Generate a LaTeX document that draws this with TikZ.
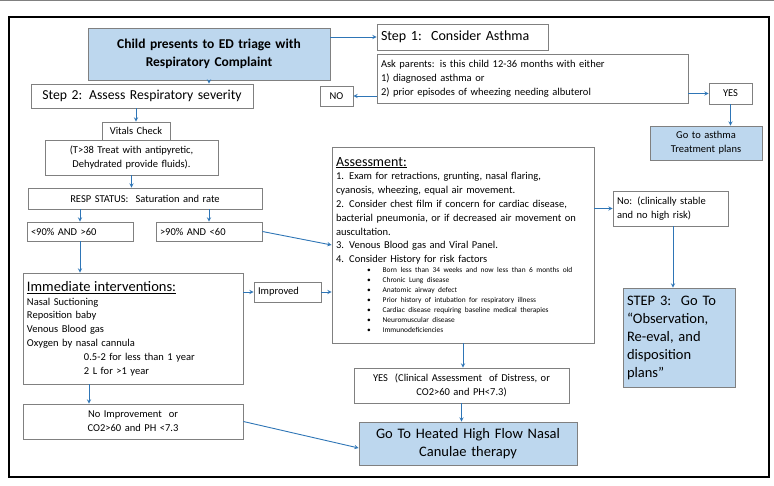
\documentclass[tikz,border=0pt]{standalone}
\usepackage{fontspec}
\setmainfont{Carlito}
\tikzset{>=stealth}
\definecolor{boxgray}{RGB}{128,128,128}
\definecolor{boxblue}{RGB}{189,215,238}
\definecolor{arrblue}{RGB}{46,117,182}
\tikzset{
  box/.style={draw=boxgray, line width=0.8pt, inner xsep=4pt, inner ysep=0pt, fill=white},
  bluebox/.style={box, fill=boxblue},
  flow/.style={->, draw=arrblue, line width=0.9pt},
  big/.style={font=\fontsize{14}{17.5}\selectfont},
  mid/.style={font=\fontsize{10.5}{13.8}\selectfont},
}

\begin{document}
\begin{tikzpicture}[x=1pt,y=-1pt]
\useasboundingbox (0,0) rectangle (774,486);
\draw[gray, line width=1.5pt] (0,0.75) -- (774,0.75);
\draw[line width=2.5pt] (9,17) rectangle (769,477);

\node[bluebox, font=\fontsize{13.5}{17.5}\selectfont\bfseries, text width=234pt, minimum height=52pt, align=center] (child) at (209,54) {Child presents to ED triage with\\Respiratory Complaint};
\node[box, big, text width=163pt, minimum height=26pt, align=left] (step1) at (462.5,37) {Step 1:\ \ Consider Asthma};
\node[box, mid, text width=303pt, minimum height=49pt, align=left] (ask) at (532.5,78.5) {Ask parents: is this child 12-36 months with either\\1) diagnosed asthma or\\2) prior episodes of wheezing needing albuterol};
\node[box, mid, text width=25pt, minimum height=20pt, align=center] (no) at (336.5,96) {NO};
\node[box, mid, text width=35pt, minimum height=21pt, align=center] (yes) at (730.5,93.5) {YES};
\node[bluebox, mid, text width=104pt, minimum height=34pt, align=center] (asthma) at (706,143) {Go to asthma\\Treatment plans};

\node[box, font=\fontsize{13.7}{17}\selectfont, text width=214pt, minimum height=24pt, align=center] (step2) at (142,96) {Step 2: Assess Respiratory severity};
\node[box, mid, text width=60pt, minimum height=18pt, align=center] (vitals) at (136,131) {Vitals Check};
\node[box, mid, text width=165pt, minimum height=35pt, align=center] (t38) at (131.5,157.5) {(T>38 Treat with antipyretic,\\Dehydrated provide fluids).};
\node[box, mid, text width=226pt, minimum height=21pt, align=center] (resp) at (145,198.5) {RESP STATUS:\ \ Saturation and rate};
\node[box, mid, text width=98pt, minimum height=19pt, align=left] (lt90) at (80,231.5) {<90\% AND >60};
\node[box, mid, text width=98pt, minimum height=19pt, align=left] (gt90) at (209,231.5) {>90\% AND <60};

\node[box, mid, text width=254pt, minimum height=196pt, align=left] (assess) at (463,245) {{\fontsize{14}{17}\selectfont\underline{Assessment:}}\\
1. Exam for retractions, grunting, nasal flaring,\\
cyanosis, wheezing, equal air movement.\\
2. Consider chest film if concern for cardiac disease,\\
bacterial pneumonia, or if decreased air movement on\\
auscultation.\\
3. Venous Blood gas and Viral Panel.\\
4. Consider History for risk factors\\
\fontsize{7.4}{10}\selectfont\hspace*{31pt}\textbullet\hspace*{12pt}Born less than 34 weeks and now less than 6 months old\\
\hspace*{31pt}\textbullet\hspace*{12pt}Chronic Lung disease\\
\hspace*{31pt}\textbullet\hspace*{12pt}Anatomic airway defect\\
\hspace*{31pt}\textbullet\hspace*{12pt}Prior history of intubation for respiratory illness\\
\hspace*{31pt}\textbullet\hspace*{12pt}Cardiac disease requiring baseline medical therapies\\
\hspace*{31pt}\textbullet\hspace*{12pt}Neuromuscular disease\\
\hspace*{31pt}\textbullet\hspace*{12pt}Immunodeficiencies\par};
\node[box, mid, text width=107pt, minimum height=35pt, align=left] (noclin) at (670.5,208.5) {No: (clinically stable\\and no high risk)};
\node[bluebox, font=\fontsize{14.5}{18}\selectfont, text width=104pt, minimum height=99pt, align=left] (step3) at (679,337.5) {STEP 3:\ \ Go To\\“Observation,\\Re-eval, and\\disposition\\plans”};

\node[box, mid, text width=212pt, minimum height=111pt, align=left] (imm) at (133,328.5) {{\fontsize{14.5}{16}\selectfont\underline{Immediate interventions:}}\\
Nasal Suctioning\\
Reposition baby\\
Venous Blood gas\\
Oxygen by nasal cannula\\
\hspace*{57pt}0.5-2 for less than 1 year\\
\hspace*{57pt}2 L for >1 year};
\node[box, mid, text width=59pt, minimum height=20pt, align=left] (improved) at (287.5,292) {Improved};
\node[box, mid, text width=212pt, minimum height=35pt, align=center] (noimp) at (133,421.5) {No Improvement\ \ or\\CO2>60 and PH <7.3};
\node[box, mid, text width=207pt, minimum height=35pt, align=center] (yescl) at (461.5,385.5) {YES\ \ (Clinical Assessment\ \ of Distress, or\\CO2>60 and PH<7.3)};
\node[bluebox, font=\fontsize{14.5}{18}\selectfont, text width=210pt, minimum height=43pt, align=center] (heated) at (468,443.5) {Go To Heated High Flow Nasal\\Canulae therapy};

\draw[flow] (child.east |- step1.west) -- (step1.west);
\draw[flow] (ask.west |- no.east) -- (no.east);
\draw[flow] (ask.east |- yes.west) -- (yes.west);
\draw[flow] (yes.south) -- (yes.south |- asthma.north);
\draw[flow] (child.south) -- (child.south |- step2.north);
\draw[flow] (vitals.north |- step2.south) -- (vitals.north);
\draw[flow] (t38.south) -- (t38.south |- resp.north);
\draw[flow] (lt90.north |- resp.south) -- (lt90.north);
\draw[flow] (gt90.north |- resp.south) -- (gt90.north);
\draw[flow] (gt90.east) -- (assess.west);
\draw[flow] (lt90.south) -- (lt90.south |- imm.north);
\draw[flow] (imm.east |- improved.west) -- (improved.west);
\draw[flow] (improved.east) -- (improved.east -| assess.west);
\draw[flow] ([xshift=-44pt]imm.south) -- ([xshift=-44pt]noimp.north);
\draw[flow] (noimp.east) -- ([yshift=-4.5pt]heated.west);
\draw[flow] (assess.south) -- (assess.south |- yescl.north);
\draw[flow] (yescl.south) -- (yescl.south |- heated.north);
\draw[flow] (assess.east |- noclin.west) -- (noclin.west);
\draw[flow] ([xshift=2.5pt]noclin.south) -- ([xshift=2.5pt]noclin.south |- step3.north);
\end{tikzpicture}
\end{document}
